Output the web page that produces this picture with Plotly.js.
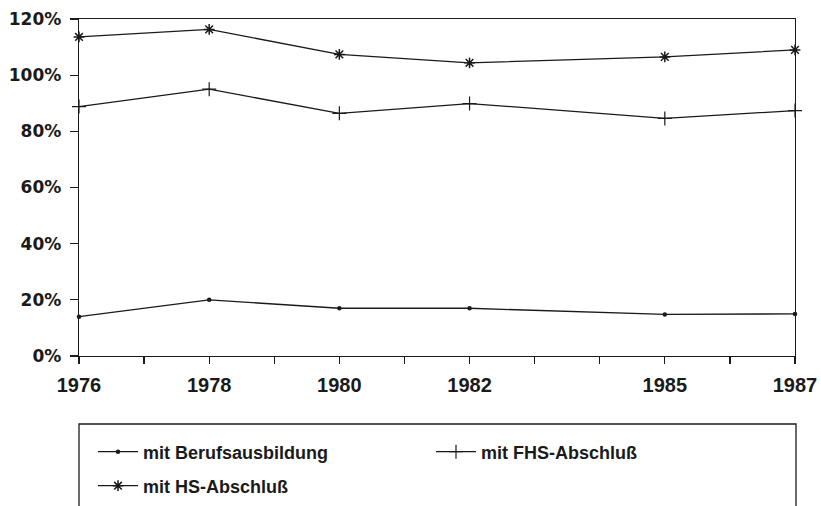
<!DOCTYPE html>
<html>
<head>
<meta charset="utf-8">
<script src="https://cdn.plot.ly/plotly-3.0.1.min.js"></script>
<style>
  html, body { margin: 0; padding: 0; background: #fff; }
  #chart { width: 821px; height: 506px; }
</style>
</head>
<body>
<div id="chart"></div>
<script>
// Data
const years = [1976, 1978, 1980, 1982, 1985, 1987];
const berufsausbildung = [14.0, 20.0, 17.0, 17.0, 14.8, 15.0];
const fhsAbschluss = [88.8, 95.0, 86.4, 89.9, 84.6, 87.4];
const hsAbschluss = [113.6, 116.3, 107.4, 104.4, 106.5, 109.0];

const seriesNames = ["mit Berufsausbildung", "mit FHS-Abschluß", "mit HS-Abschluß"];

const xTickVals = [1976, 1977, 1978, 1979, 1980, 1981, 1982, 1983, 1984, 1985, 1986, 1987];
const xTickText = ["1976", "", "1978", "", "1980", "", "1982", "", "", "1985", "", "1987"];
const yTickVals = [0, 20, 40, 60, 80, 100, 120];
const yTickText = ["0%", "20%", "40%", "60%", "80%", "100%", "120%"];

const ink = "#1a1a1a";
const fontFam = "'Liberation Sans', Arial, Helvetica, sans-serif";
const wideFam = "'DejaVu Sans', 'Liberation Sans', sans-serif";

const traces = [
  {
    x: years, y: berufsausbildung, name: seriesNames[0], type: "scatter", mode: "lines+markers",
    line: { color: ink, width: 1.3 },
    marker: { symbol: "circle", size: 4.5, color: ink },
    cliponaxis: false, legend: "legend"
  },
  {
    x: years, y: fhsAbschluss, name: seriesNames[1], type: "scatter", mode: "lines+markers",
    line: { color: ink, width: 1.3 },
    marker: { symbol: "cross-thin-open", size: 10, color: ink, line: { color: ink, width: 1.2 } },
    cliponaxis: false, legend: "legend2"
  },
  {
    x: years, y: hsAbschluss, name: seriesNames[2], type: "scatter", mode: "lines+markers",
    line: { color: ink, width: 1.3 },
    marker: { symbol: "asterisk-open", size: 9, color: ink, line: { color: ink, width: 1.5 } },
    cliponaxis: false, legend: "legend3"
  }
];

const plotL = 79, plotR = 795, plotT = 19, plotB = 356;
const pw = plotR - plotL, ph = plotB - plotT;
const px2x = p => (p - plotL) / pw;
const px2y = p => (plotB - p) / ph;

const legendFont = { family: fontFam, size: 18, color: ink, weight: 700 };
const legendCommon = {
  font: legendFont, bgcolor: "rgba(0,0,0,0)", borderwidth: 0,
  xanchor: "left", yanchor: "middle", itemwidth: 40, itemclick: false, itemdoubleclick: false
};

const layout = {
  width: 821, height: 506,
  margin: { l: plotL, r: 821 - plotR, t: plotT, b: 506 - plotB, pad: 0, autoexpand: false },
  paper_bgcolor: "#fff", plot_bgcolor: "#fff",
  showlegend: true,
  xaxis: {
    range: [1976, 1987], tickmode: "array", tickvals: xTickVals, ticktext: xTickText,
    ticks: "outside", ticklen: 7, tickwidth: 1.2, tickcolor: ink,
    showline: true, linecolor: ink, linewidth: 1.3, mirror: true,
    showgrid: false, zeroline: false, ticklabelstandoff: 4,
    tickfont: { family: fontFam, size: 20, color: ink, weight: 700 }
  },
  yaxis: {
    range: [0, 120], tickmode: "array", tickvals: yTickVals, ticktext: yTickText,
    ticks: "outside", ticklen: 8, tickwidth: 1.2, tickcolor: ink,
    showline: true, linecolor: ink, linewidth: 1.3, mirror: true,
    showgrid: false, zeroline: false, ticklabelstandoff: 5,
    tickfont: { family: wideFam, size: 17, color: ink, weight: 700 }
  },
  legend: Object.assign({}, legendCommon, { x: px2x(93), y: px2y(452) }),
  legend2: Object.assign({}, legendCommon, { x: px2x(431), y: px2y(452) }),
  legend3: Object.assign({}, legendCommon, { x: px2x(93), y: px2y(486) }),
  shapes: [
    {
      type: "rect", xref: "paper", yref: "paper",
      x0: px2x(79), x1: px2x(796), y0: px2y(424), y1: px2y(540),
      line: { color: ink, width: 1.3 }, fillcolor: "rgba(0,0,0,0)", layer: "below"
    }
  ]
};

Plotly.newPlot("chart", traces, layout, { displayModeBar: false, staticPlot: true });
</script>
</body>
</html>
